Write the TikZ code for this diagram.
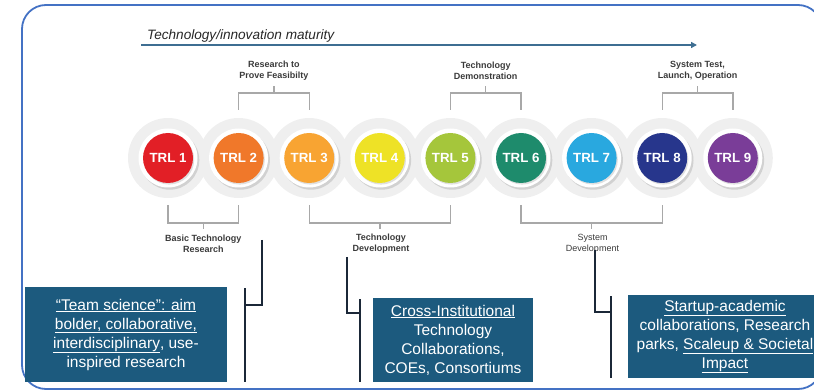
\documentclass[tikz,border=0pt]{standalone}
\usepackage{fontspec}
\setmainfont{Liberation Sans}
\usetikzlibrary{arrows.meta}
\definecolor{framec}{HTML}{4472C4}
\definecolor{arrowc}{HTML}{3E6E92}
\definecolor{boxc}{HTML}{1C5A7E}
\definecolor{connc}{HTML}{1B2838}
\definecolor{brackc}{HTML}{A8A8A8}
\definecolor{lblc}{HTML}{3A3A3A}
\definecolor{haloc}{HTML}{EFEFEF}
\definecolor{cA}{HTML}{E21F26}
\definecolor{cB}{HTML}{F0782A}
\definecolor{cC}{HTML}{F8A432}
\definecolor{cD}{HTML}{EEE226}
\definecolor{cE}{HTML}{A5C63B}
\definecolor{cF}{HTML}{1E8B6C}
\definecolor{cG}{HTML}{29A8DF}
\definecolor{cH}{HTML}{27368C}
\definecolor{cI}{HTML}{7A3D98}
\begin{document}
\begin{tikzpicture}[x=1pt,y=-1pt,
  trlnode/.style={circle,inner sep=0pt,minimum size=50pt,text=white,font=\bfseries\fontsize{13.3}{14}\selectfont},
  bracketline/.style={draw=brackc,line width=1.4pt},
  lbl/.style={align=center,text=lblc,font=\bfseries\fontsize{9}{11}\selectfont,inner sep=0pt},
  lblreg/.style={align=center,text=lblc,font=\fontsize{9}{11}\selectfont,inner sep=0pt},
  infobox/.style={fill=boxc,text=white,align=center,inner sep=0pt,font=\fontsize{15.5}{19}\selectfont},
  conn/.style={draw=connc,line width=2pt}]
\useasboundingbox (0,0) rectangle (814,390);
\clip (0,0) rectangle (814,390);
% frame
\draw[framec,line width=1.8pt,rounded corners=24pt] (22,5) rectangle (822,389);
% title and arrow
\node[anchor=west,inner sep=0pt,font=\itshape\fontsize{13.6}{16}\selectfont,text=black!85] (title) at (147,36) {Technology/innovation maturity};
\coordinate (arrS) at (141,45);
\coordinate (arrE) at (697,45);
\draw[arrowc,line width=2pt,-{Triangle[length=6pt,width=6pt]}] (arrS) -- (arrE);
% circle centres
\foreach \i in {1,...,9} {\coordinate (p\i) at ({168+70.6*(\i-1)},158);}
% halos
\foreach \i in {1,...,9} {\fill[haloc] (p\i) circle (40);}
% white rings with shadow
\foreach \i in {1,...,9} {
  \fill[black!18] ([shift={(1.8,2.2)}]p\i) circle (29.5);
  \fill[white] (p\i) circle (29.5);
  \fill[black!12] ([shift={(1.2,1.6)}]p\i) circle (25);
}
\foreach \i/\c in {1/cA,2/cB,3/cC,4/cD,5/cE,6/cF,7/cG,8/cH,9/cI} {
  \node[trlnode,fill=\c] (trl\i) at (p\i) {TRL \i};
}
% top brackets
\draw[bracketline] (trl2.center |- 0,110) -- (trl2.center |- 0,93) -- (trl3.center |- 0,93) -- (trl3.center |- 0,110);
\draw[bracketline] (273.9,93) -- (273.9,86);
\node[lbl] (rpf) at (273.9,70.5) {Research to\\Prove Feasibilty};
\draw[bracketline] (trl5.center |- 0,110) -- (trl5.center |- 0,93) -- (trl6.center |- 0,93) -- (trl6.center |- 0,110);
\draw[bracketline] (485.7,93) -- (485.7,86);
\node[lbl] (tdm) at (485.7,70.5) {Technology\\Demonstration};
\draw[bracketline] (trl8.center |- 0,110) -- (trl8.center |- 0,93) -- (trl9.center |- 0,93) -- (trl9.center |- 0,110);
\draw[bracketline] (697.5,93) -- (697.5,86);
\node[lbl] (stl) at (697.5,70.5) {System Test,\\Launch, Operation};
% bottom brackets
\draw[bracketline] (trl1.center |- 0,205) -- (trl1.center |- 0,223) -- (trl2.center |- 0,223) -- (trl2.center |- 0,205);
\draw[bracketline] (203.3,223) -- (203.3,229);
\node[lbl] (btr) at (203.3,243.5) {Basic Technology\\Research};
\draw[bracketline] (trl3.center |- 0,205) -- (trl3.center |- 0,223) -- (trl5.center |- 0,223) -- (trl5.center |- 0,205);
\draw[bracketline] (379.8,223) -- (379.8,229);
\node[lbl] (tdv) at (381,243.5) {Technology\\Development};
\draw[bracketline] (trl6.center |- 0,205) -- (trl6.center |- 0,223) -- (trl8.center |- 0,223) -- (trl8.center |- 0,205);
\draw[bracketline] (591.6,223) -- (591.6,229);
\node[lblreg] (sdv) at (592.5,243.5) {System\\Development};
% boxes
\node[infobox,minimum width=202pt,minimum height=95pt] (boxA) at (126,334.5)
  {\underline{“Team science”: aim}\\\underline{bolder, collaborative,}\\\underline{interdisciplinary}, use-\\inspired research};
\node[infobox,minimum width=160pt,minimum height=84pt] (boxB) at (453,340)
  {\underline{Cross-Institutional}\\Technology\\Collaborations,\\COEs, Consortiums};
\node[infobox,minimum width=194pt,minimum height=83pt] (boxC) at (725,336.5)
  {\underline{Startup-academic}\\collaborations, Research\\parks, \underline{Scaleup \& Societal}\\\underline{Impact}};
% connectors
\coordinate (aTop) at (262,240);
\coordinate (aBarT) at (245,288);
\coordinate (aBarB) at (245,382);
\draw[conn] (aTop) |- (245,305);
\draw[conn] (aBarT) -- (aBarB);
\coordinate (bTop) at (347,257);
\coordinate (bBarT) at (360,299);
\coordinate (bBarB) at (360,382);
\draw[conn] (bTop) |- (360,313);
\draw[conn] (bBarT) -- (bBarB);
\coordinate (cTop) at (595,250);
\coordinate (cBarT) at (611,296);
\coordinate (cBarB) at (611,378);
\draw[conn] (cTop) |- (611,312);
\draw[conn] (cBarT) -- (cBarB);
\end{tikzpicture}
\end{document}
